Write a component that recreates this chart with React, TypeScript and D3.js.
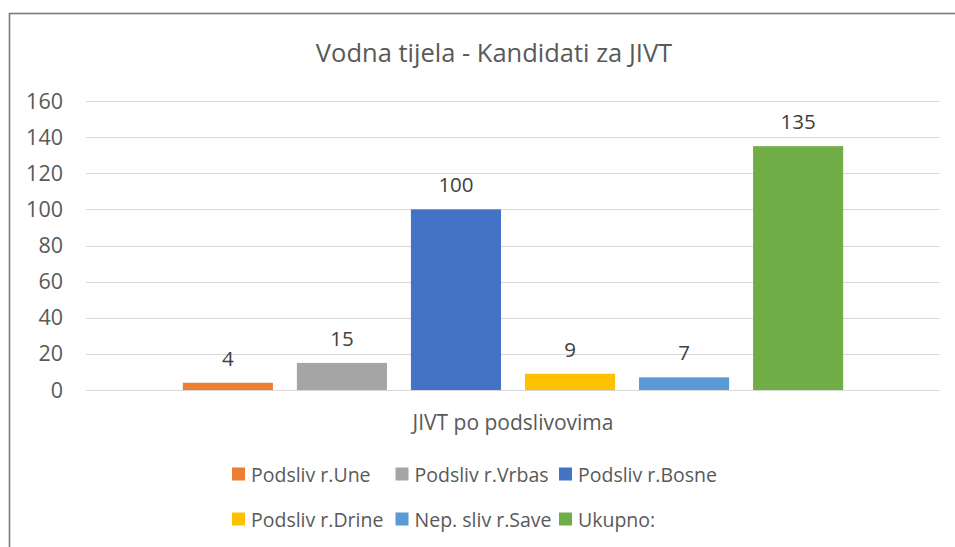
import React, { useRef, useEffect } from "react";
import * as d3 from "d3";

const categories = ["JIVT po podslivovima"];
const seriesNames = [
	"Podsliv r.Une",
	"Podsliv r.Vrbas",
	"Podsliv r.Bosne",
	"Podsliv r.Drine",
	"Nep. sliv r.Save",
	"Ukupno:",
];
const seriesValues = [4, 15, 100, 9, 7, 135];
const seriesColors = ["#ED7D31", "#A5A5A5", "#4472C4", "#FFC000", "#5B9BD5", "#70AD47"];
const yTicks = [0, 20, 40, 60, 80, 100, 120, 140, 160];

const W = 955;
const H = 547;
const FONT = "'Open Sans', sans-serif";
const TEXT = "#595959";

const App: React.FC = () => {
	const svgRef = useRef<SVGSVGElement | null>(null);

	useEffect(() => {
		const svg = d3.select(svgRef.current);
		svg.selectAll("*").remove();

		const plot = { left: 86, right: 940, top: 101, bottom: 390 };

		const y = d3.scaleLinear().domain([0, 160]).range([plot.bottom, plot.top]);

		const x0 = d3
			.scaleBand<string>()
			.domain(categories)
			.range([plot.left, plot.right])
			.paddingOuter(0.124);

		const x1 = d3
			.scaleBand<string>()
			.domain(seriesNames)
			.range([0, x0.bandwidth()])
			.paddingInner(0.21)
			.paddingOuter(0.105);

		// chart border
		svg
			.append("rect")
			.attr("x", 9.5)
			.attr("y", 13.5)
			.attr("width", 980)
			.attr("height", 560)
			.attr("fill", "white")
			.attr("stroke", "#7a7a7a")
			.attr("stroke-width", 1.6);

		svg
			.append("text")
			.attr("x", 494)
			.attr("y", 62)
			.attr("text-anchor", "middle")
			.attr("font-family", FONT)
			.attr("font-size", 25.5)
			.attr("fill", TEXT)
			.text("Vodna tijela - Kandidati za JIVT");

		// gridlines + y labels
		const g = svg.append("g");
		g.selectAll("line.grid")
			.data(yTicks)
			.enter()
			.append("line")
			.attr("x1", plot.left)
			.attr("x2", plot.right)
			.attr("y1", (d) => Math.round(y(d)) + 0.5)
			.attr("y2", (d) => Math.round(y(d)) + 0.5)
			.attr("stroke", "#D9D9D9")
			.attr("stroke-width", 1.2);

		g.selectAll("text.ytick")
			.data(yTicks)
			.enter()
			.append("text")
			.attr("x", 63)
			.attr("y", (d) => y(d) + 7.5)
			.attr("text-anchor", "end")
			.attr("font-family", FONT)
			.attr("font-size", 21.5)
			.attr("fill", TEXT)
			.text((d) => d);

		const cat = categories[0];
		const bars = svg.append("g").attr("transform", `translate(${x0(cat)},0)`);

		bars
			.selectAll("rect")
			.data(seriesValues)
			.enter()
			.append("rect")
			.attr("x", (_, i) => x1(seriesNames[i])!)
			.attr("y", (d) => y(d))
			.attr("width", x1.bandwidth())
			.attr("height", (d) => y(0) - y(d))
			.attr("fill", (_, i) => seriesColors[i]);

		bars
			.selectAll("text")
			.data(seriesValues)
			.enter()
			.append("text")
			.attr("x", (_, i) => x1(seriesNames[i])! + x1.bandwidth() / 2)
			.attr("y", (d) => y(d) - 17)
			.attr("text-anchor", "middle")
			.attr("font-family", FONT)
			.attr("font-size", 20.5)
			.attr("fill", "#404040")
			.text((d) => d);

		// category label
		svg
			.append("text")
			.attr("x", x0(cat)! + x0.bandwidth() / 2)
			.attr("y", 430)
			.attr("text-anchor", "middle")
			.attr("font-family", FONT)
			.attr("font-size", 21)
			.attr("fill", TEXT)
			.text(cat);

		// legend, 3 per row
		const legend = svg
			.selectAll("g.legend")
			.data(seriesNames)
			.enter()
			.append("g")
			.attr(
				"transform",
				(_, i) => `translate(${232 + (i % 3) * 163.5},${474 + Math.floor(i / 3) * 45})`
			);

		legend
			.append("rect")
			.attr("x", 0)
			.attr("y", -6.5)
			.attr("width", 13)
			.attr("height", 13)
			.attr("fill", (_, i) => seriesColors[i]);

		legend
			.append("text")
			.attr("x", 19)
			.attr("y", 7.5)
			.attr("font-family", FONT)
			.attr("font-size", 19.5)
			.attr("fill", TEXT)
			.text((d) => d);
	}, []);

	return (
		<svg
			ref={svgRef}
			width={W}
			height={H}
			style={{ position: "absolute", left: 0, top: 0, background: "white" }}
		></svg>
	);
};

export default App;
